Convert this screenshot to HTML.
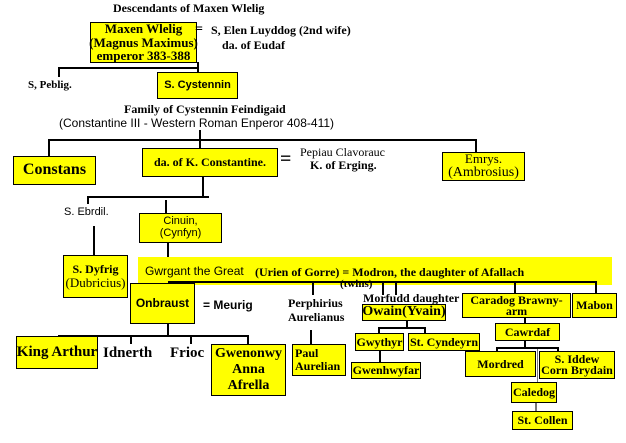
<!DOCTYPE html>
<html><head><meta charset="utf-8"><style>
body{margin:0;width:626px;height:443px;background:#fff;position:relative;overflow:hidden;font-family:"Liberation Serif",serif;font-weight:bold;color:#000}
.a{position:absolute;white-space:nowrap}
.b{position:absolute;background:#ffff00;border:1.5px solid #000;box-sizing:border-box;display:flex;flex-direction:column;align-items:center;justify-content:center;text-align:center;line-height:1.05;white-space:nowrap}
.s{font-family:"Liberation Sans",sans-serif}
.l{position:absolute;background:#000}
.n{font-weight:normal}
</style></head><body>
<div class="a" style="left:113px;top:1px;font-size:12px">Descendants of Maxen Wlelig</div>
<div class="b" style="left:90px;top:22px;width:107px;height:41px;font-size:13px"><div>Maxen Wlelig</div><div>(Magnus Maximus)</div><div>emperor 383-388</div></div>
<div class="a" style="left:195px;top:22px;font-size:14px">=</div>
<div class="a" style="left:211px;top:23px;font-size:12px">S, Elen Luyddog (2nd wife)</div>
<div class="a" style="left:222px;top:38px;font-size:12px">da. of Eudaf</div>
<div class="l" style="left:58px;top:67px;width:141px;height:2px"></div>
<div class="l" style="left:197px;top:62px;width:2px;height:36px"></div>
<div class="l" style="left:58px;top:67px;width:2px;height:10px"></div>
<div class="a" style="left:28px;top:79px;font-size:11px">S, Peblig.</div>
<div class="b s" style="left:157px;top:72px;width:81px;height:27px;font-size:11px">S. Cystennin</div>
<div class="a" style="left:124px;top:102px;font-size:12px">Family of Cystennin Feindigaid</div>
<div class="a s n" style="left:59px;top:116px;font-size:12px">(Constantine III - Western Roman Enperor 408-411)</div>
<div class="l" style="left:48px;top:139px;width:429px;height:2px"></div>
<div class="l" style="left:199px;top:130px;width:2px;height:18px"></div>
<div class="l" style="left:48px;top:139px;width:2px;height:17px"></div>
<div class="l" style="left:475px;top:139px;width:2px;height:13px"></div>
<div class="b" style="left:13px;top:156px;width:83px;height:29px;font-size:16px">Constans</div>
<div class="b" style="left:142px;top:148px;width:136px;height:29px;font-size:12px">da. of K. Constantine.</div>
<div class="a" style="left:280px;top:148px;font-size:20px">=</div>
<div class="a n" style="left:300px;top:145px;font-size:12px">Pepiau Clavorauc</div>
<div class="a" style="left:310px;top:158px;font-size:12px">K. of Erging.</div>
<div class="b n" style="left:442px;top:152px;width:83px;height:29px;font-size:13px"><div>Emrys.</div><div style="font-size:14px">(Ambrosius)</div></div>
<div class="l" style="left:202px;top:177px;width:2px;height:20px"></div>
<div class="l" style="left:87px;top:196px;width:122px;height:2px"></div>
<div class="l" style="left:87px;top:196px;width:2px;height:8px"></div>
<div class="a s" style="left:64px;top:206px;font-size:11px;font-weight:normal">S. Ebrdil.</div>
<div class="l" style="left:93px;top:226px;width:2px;height:30px"></div>
<div class="l" style="left:165px;top:200px;width:2px;height:13px"></div>
<div class="b s n" style="left:139px;top:213px;width:83px;height:30px;font-size:11px"><div>Cinuin,</div><div>(Cynfyn)</div></div>
<div class="b" style="left:63px;top:255px;width:65px;height:43px;font-size:12px"><div>S. Dyfrig</div><div class="n" style="font-size:13px">(Dubricius)</div></div>
<div class="l" style="left:167px;top:243px;width:2px;height:14px"></div>
<div style="position:absolute;left:138px;top:257px;width:474px;height:28px;background:#ffff00"></div>
<div class="a s n" style="left:145px;top:264px;font-size:12px">Gwrgant the Great</div>
<div class="a" style="left:255px;top:265px;font-size:12px">(Urien of Gorre) = Modron, the daughter of Afallach</div>
<div class="l" style="left:168px;top:281px;width:429px;height:2px"></div>
<div class="l" style="left:312px;top:283px;width:2px;height:12px"></div>
<div class="l" style="left:382px;top:283px;width:2px;height:12px"></div>
<div class="l" style="left:395px;top:283px;width:2px;height:12px"></div>
<div class="l" style="left:514px;top:283px;width:2px;height:10px"></div>
<div class="l" style="left:595px;top:283px;width:2px;height:10px"></div>
<div class="b s" style="left:130px;top:283px;width:65px;height:41px;font-size:12px">Onbraust</div>
<div class="a s" style="left:203px;top:298px;font-size:12px">= Meurig</div>
<div class="a" style="left:288px;top:296px;font-size:12px;line-height:14px">Perphirius<br>Aurelianus</div>
<div class="l" style="left:310px;top:330px;width:2px;height:14px"></div>
<div class="b" style="left:292px;top:344px;width:54px;height:32px;font-size:12px;align-items:flex-start;padding-left:2px;text-align:left"><div>Paul</div><div>Aurelian</div></div>
<div class="l" style="left:167px;top:324px;width:2px;height:12px"></div>
<div class="l" style="left:58px;top:335px;width:191px;height:2px"></div>
<div class="l" style="left:130px;top:336px;width:2px;height:8px"></div>
<div class="l" style="left:190px;top:336px;width:2px;height:8px"></div>
<div class="l" style="left:247px;top:336px;width:2px;height:8px"></div>
<div class="b" style="left:16px;top:336px;width:82px;height:33px;font-size:15px">King Arthur</div>
<div class="a" style="left:103px;top:345px;font-size:15px">Idnerth</div>
<div class="a" style="left:170px;top:345px;font-size:15px">Frioc</div>
<div class="b" style="left:211px;top:344px;width:75px;height:52px;font-size:14px;line-height:16px"><div>Gwenonwy</div><div>Anna</div><div>Afrella</div></div>
<div class="a" style="left:340px;top:278px;font-size:11px">(twins)</div>
<div class="a" style="left:363px;top:291px;font-size:12px">Morfudd daughter</div>
<div class="b" style="left:362px;top:304px;width:84px;height:17px;font-size:14px">Owain(Yvain)</div>
<div class="l" style="left:406px;top:321px;width:2px;height:7px"></div>
<div class="l" style="left:378px;top:327px;width:48px;height:2px"></div>
<div class="l" style="left:378px;top:327px;width:2px;height:6px"></div>
<div class="l" style="left:424px;top:327px;width:2px;height:6px"></div>
<div class="b" style="left:355px;top:333px;width:49px;height:18px;font-size:12px">Gwythyr</div>
<div class="b" style="left:408px;top:333px;width:72px;height:18px;font-size:12px">St. Cyndeyrn</div>
<div class="l" style="left:379px;top:351px;width:2px;height:11px"></div>
<div class="b" style="left:351px;top:362px;width:70px;height:17px;font-size:12px">Gwenhwyfar</div>
<div class="b" style="left:462px;top:293px;width:109px;height:25px;font-size:12px;line-height:11px"><div>Caradog Brawny-</div><div>arm</div></div>
<div class="b" style="left:572px;top:293px;width:45px;height:25px;font-size:12px">Mabon</div>
<div class="l" style="left:524px;top:318px;width:2px;height:5px"></div>
<div class="b" style="left:495px;top:323px;width:65px;height:18px;font-size:12px">Cawrdaf</div>
<div class="l" style="left:524px;top:341px;width:2px;height:7px"></div>
<div class="l" style="left:496px;top:347px;width:63px;height:2px"></div>
<div class="l" style="left:496px;top:347px;width:2px;height:5px"></div>
<div class="l" style="left:557px;top:347px;width:2px;height:10px"></div>
<div class="l" style="left:537px;top:349px;width:1px;height:34px;background:#777"></div>
<div class="b" style="left:465px;top:351px;width:71px;height:26px;font-size:12px">Mordred</div>
<div class="b" style="left:539px;top:351px;width:76px;height:28px;font-size:12px;line-height:11px"><div>S. Iddew</div><div>Corn Brydain</div></div>
<div class="b" style="left:511px;top:382px;width:46px;height:21px;font-size:12px">Caledog</div>
<div class="l" style="left:535px;top:403px;width:2px;height:8px;background:#777"></div>
<div class="b" style="left:512px;top:411px;width:61px;height:19px;font-size:12px">St. Collen</div>
</body></html>
